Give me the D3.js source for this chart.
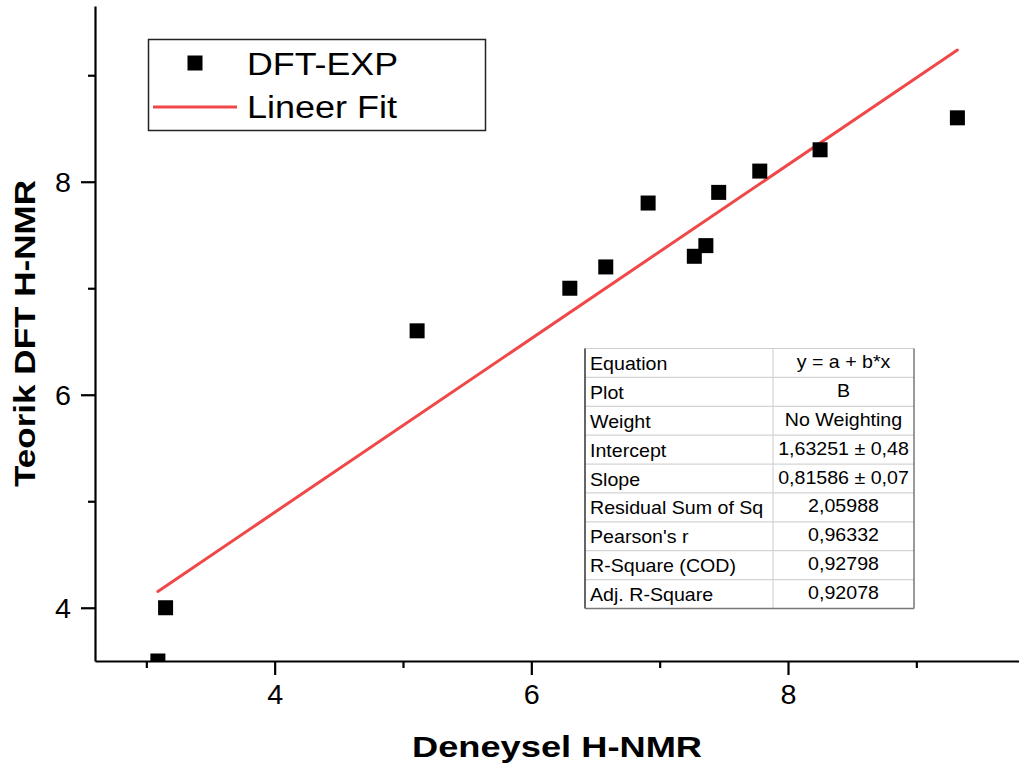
<!DOCTYPE html>
<html>
<head>
<meta charset="utf-8">
<script src="https://cdn.jsdelivr.net/npm/d3@7"></script>
<style>
  html, body { margin: 0; padding: 0; background: #fff; }
  svg { display: block; }
  text { font-family: "Liberation Sans", Arial, sans-serif; }
</style>
</head>
<body>
<script>
// ---- data ----
const expX = [3.09, 3.15, 5.11, 6.30, 6.58, 6.91, 7.27, 7.36, 7.46, 7.78, 8.25, 9.32];
const dftY = [3.50, 4.00, 6.60, 7.00, 7.20, 7.80, 7.30, 7.40, 7.90, 8.10, 8.30, 8.60];
const fitIntercept = 1.63251;
const fitSlope = 0.81586;
const xMajorTicks = [4, 6, 8];
const xMinorTicks = [3, 5, 7, 9];
const yMajorTicks = [4, 6, 8];
const yMinorTicks = [5, 7, 9];
const legendLabels = ["DFT-EXP", "Lineer Fit"];
const tableLabels = ["Equation", "Plot", "Weight", "Intercept", "Slope", "Residual Sum of Sq", "Pearson's r", "R-Square (COD)", "Adj. R-Square"];
const tableValues = ["y = a + b*x", "B", "No Weighting", "1,63251 \u00b1 0,48", "0,81586 \u00b1 0,07", "2,05988", "0,96332", "0,92798", "0,92078"];
const xTitle = "Deneysel H-NMR";
const yTitle = "Teorik DFT H-NMR";

// ---- layout ----
const W = 1019, H = 773;
const svg = d3.select("body").append("svg").attr("width", W).attr("height", H);

const x = d3.scaleLinear().domain([2.6, 9.8]).range([95, 1019]);
const y = d3.scaleLinear().domain([3.5, 9.65]).range([661, 6]);

const fitColor = "#f04848";

// clip
svg.append("clipPath").attr("id", "plotclip").append("rect")
  .attr("x", 95).attr("y", 0).attr("width", W - 95).attr("height", 661);

// fit line
const ext = d3.extent(expX);
const line = d3.line().x(d => x(d[0])).y(d => y(d[1]));
svg.append("path")
  .datum(ext.map(v => [v, fitIntercept + fitSlope * v]))
  .attr("d", line)
  .attr("fill", "none").attr("stroke", fitColor).attr("stroke-width", 3)
  .attr("stroke-linecap", "round");

// points
const ms = 15;
svg.append("g").attr("clip-path", "url(#plotclip)")
  .selectAll("rect").data(expX.map((v, i) => [v, dftY[i]])).join("rect")
  .attr("x", d => x(d[0]) - ms / 2).attr("y", d => y(d[1]) - ms / 2)
  .attr("width", ms).attr("height", ms).attr("fill", "#000");

// axes
const xAxisG = svg.append("g").attr("transform", "translate(0,661)");
xAxisG.call(d3.axisBottom(x).tickValues(xMajorTicks).tickSize(14).tickSizeOuter(0).tickFormat(d3.format("d")));
xAxisG.append("g").call(d3.axisBottom(x).tickValues(xMinorTicks).tickSize(7).tickSizeOuter(0).tickFormat(""))
  .select(".domain").remove();
xAxisG.selectAll(".domain").attr("stroke", "#000").attr("stroke-width", 2.2);
xAxisG.selectAll(".tick line").attr("stroke", "#000").attr("stroke-width", 2.2);
xAxisG.selectAll(".tick text").attr("font-size", 27).attr("fill", "#000").attr("dy", 0).attr("y", 43)
  .attr("textLength", 16).attr("lengthAdjust", "spacingAndGlyphs")
  .style("font-family", "'Liberation Sans', Arial, sans-serif");

const yAxisG = svg.append("g").attr("transform", "translate(95,0)");
yAxisG.call(d3.axisLeft(y).tickValues(yMajorTicks).tickSize(14).tickSizeOuter(0).tickFormat(d3.format("d")));
yAxisG.append("g").call(d3.axisLeft(y).tickValues(yMinorTicks).tickSize(7).tickSizeOuter(0).tickFormat(""))
  .select(".domain").remove();
yAxisG.selectAll(".domain").attr("stroke", "#000").attr("stroke-width", 2.2);
yAxisG.selectAll(".tick line").attr("stroke", "#000").attr("stroke-width", 2.2);
yAxisG.selectAll(".tick text").attr("font-size", 27).attr("fill", "#000").attr("x", -24).attr("dy", "0.36em")
  .attr("textLength", 16).attr("lengthAdjust", "spacingAndGlyphs")
  .style("font-family", "'Liberation Sans', Arial, sans-serif");

// axis titles
svg.append("text").text(xTitle)
  .attr("x", 412).attr("y", 757).attr("font-size", 30).attr("font-weight", "bold")
  .attr("textLength", 290).attr("lengthAdjust", "spacingAndGlyphs").attr("fill", "#000");
svg.append("text").text(yTitle)
  .attr("transform", "translate(35,487) rotate(-90)")
  .attr("font-size", 30).attr("font-weight", "bold")
  .attr("textLength", 307).attr("lengthAdjust", "spacingAndGlyphs").attr("fill", "#000");

// legend
const lg = svg.append("g");
lg.append("rect").attr("x", 148.5).attr("y", 39.5).attr("width", 337).attr("height", 91)
  .attr("fill", "#fff").attr("stroke", "#222").attr("stroke-width", 1.5);
lg.append("rect").attr("x", 195 - ms / 2).attr("y", 63 - ms / 2).attr("width", ms).attr("height", ms).attr("fill", "#000");
lg.append("line").attr("x1", 153).attr("x2", 237).attr("y1", 107).attr("y2", 107)
  .attr("stroke", fitColor).attr("stroke-width", 3);
lg.append("text").text(legendLabels[0]).attr("x", 247).attr("y", 75).attr("font-size", 31)
  .attr("textLength", 151).attr("lengthAdjust", "spacingAndGlyphs").attr("fill", "#000");
lg.append("text").text(legendLabels[1]).attr("x", 247).attr("y", 118).attr("font-size", 31)
  .attr("textLength", 150).attr("lengthAdjust", "spacingAndGlyphs").attr("fill", "#000");

// stats table
const tL = 585, tR = 914, tT = 348.5, tB = 608.5, tC = 773;
const rowH = (tB - tT) / tableLabels.length;
const tg = svg.append("g");
tg.append("rect").attr("x", tL).attr("y", tT).attr("width", tR - tL).attr("height", tB - tT).attr("fill", "#fff");
tableLabels.forEach((lab, i) => {
  if (i > 0) {
    tg.append("line").attr("x1", tL).attr("x2", tR).attr("y1", tT + i * rowH).attr("y2", tT + i * rowH)
      .attr("stroke", "#d4d4d4").attr("stroke-width", 1.2);
  }
  const by = tT + i * rowH + 21.5;
  tg.append("text").text(lab).attr("font-size", 18).attr("fill", "#000")
    .attr("transform", `translate(${tL + 5},${by}) scale(1.09,1)`);
  tg.append("text").text(tableValues[i]).attr("font-size", 18).attr("fill", "#000")
    .attr("text-anchor", "middle")
    .attr("transform", `translate(${(tC + tR) / 2},${by - 2}) scale(1.09,1)`);
});
tg.append("line").attr("x1", tC).attr("x2", tC).attr("y1", tT).attr("y2", tB).attr("stroke", "#d4d4d4").attr("stroke-width", 1.2);
tg.append("line").attr("x1", tL).attr("x2", tR).attr("y1", tT).attr("y2", tT).attr("stroke", "#cfcfcf").attr("stroke-width", 1.2);
tg.append("line").attr("x1", tL).attr("x2", tL).attr("y1", tT).attr("y2", tB).attr("stroke", "#333").attr("stroke-width", 1.5);
tg.append("line").attr("x1", tR).attr("x2", tR).attr("y1", tT).attr("y2", tB).attr("stroke", "#777").attr("stroke-width", 1.5);
tg.append("line").attr("x1", tL).attr("x2", tR).attr("y1", tB).attr("y2", tB).attr("stroke", "#777").attr("stroke-width", 1.5);
</script>
</body>
</html>
